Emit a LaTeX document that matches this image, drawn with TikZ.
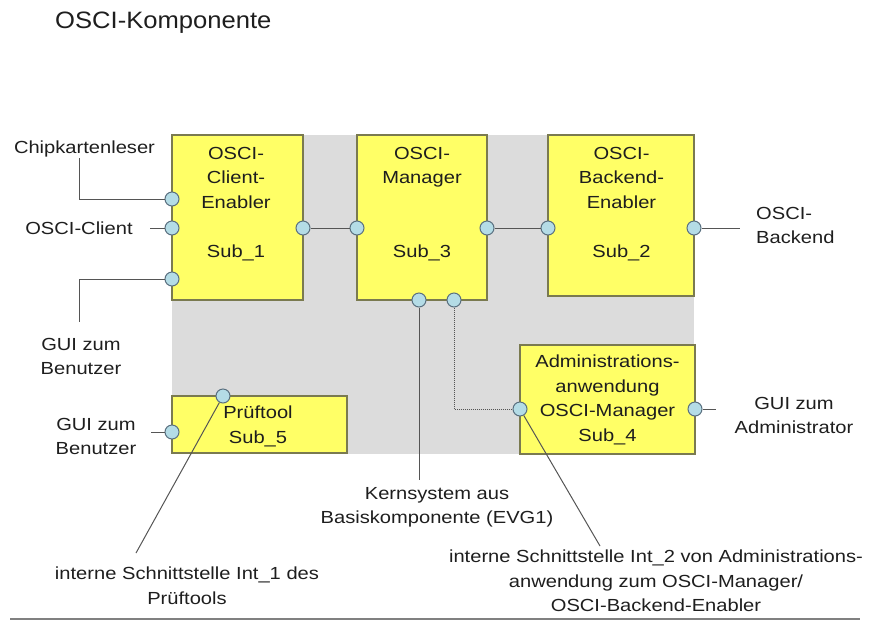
\documentclass[tikz,border=0pt]{standalone}
\usepackage{fontspec}
\setmainfont{Liberation Sans}[FakeStretch=1.15]
\newfontfamily\titlefont{Liberation Sans}[FakeStretch=1.08]
\definecolor{bggray}{HTML}{DCDCDC}
\definecolor{boxfill}{HTML}{FFFF66}
\definecolor{boxline}{HTML}{7A7A50}
\definecolor{portfill}{HTML}{B4DCE6}
\definecolor{portline}{HTML}{5A7080}
\definecolor{connline}{HTML}{555555}
\definecolor{textcol}{HTML}{1E1E1E}
\begin{document}
\begin{tikzpicture}[x=1pt,y=-1pt,
  box/.style={draw=boxline, fill=boxfill, line width=1.3pt, inner sep=0pt},
  port/.style={circle, draw=portline, fill=portfill, minimum size=14pt, inner sep=0pt, line width=1pt},
  conn/.style={draw=connline, line width=1pt},
  lbl/.style={font=\fontsize{17.5}{24.5}\selectfont, align=center, inner sep=0pt, text=textcol},
]
\useasboundingbox (0,0) rectangle (870,622);
\fill[bggray] (172,135) rectangle (694,454);
% title
\node[anchor=base west, inner sep=0pt, text=textcol, font=\titlefont\fontsize{23.7}{28}\selectfont] (title) at (55,28) {OSCI-Komponente};
% boxes
\node[box, minimum width=131pt, minimum height=165pt] (b1) at (237.5,217.5) {};
\node[box, minimum width=130pt, minimum height=165pt] (b3) at (422,217.5) {};
\node[box, minimum width=146pt, minimum height=161pt] (b2) at (621,215.5) {};
\node[box, minimum width=175pt, minimum height=57pt] (b5) at (259.5,424.5) {};
\node[box, minimum width=175pt, minimum height=109pt] (b4) at (607.5,399.5) {};
% box texts
\node[lbl, anchor=north] (t1) at (236,147) {OSCI-\\Client-\\Enabler};
\node[lbl, anchor=base] (s1) at (236,257) {Sub\_1};
\node[lbl, anchor=north] (t3) at (422,147) {OSCI-\\Manager};
\node[lbl, anchor=base] (s3) at (422,257) {Sub\_3};
\node[lbl, anchor=north] (t2) at (621.5,147) {OSCI-\\Backend-\\Enabler};
\node[lbl, anchor=base] (s2) at (621.5,257) {Sub\_2};
\node[lbl, anchor=north] (t4) at (607.5,355) {Administrations-\\anwendung\\OSCI-Manager\\Sub\_4};
\node[lbl, anchor=north] (t5) at (258,406) {Prüftool\\Sub\_5};
% labels
\node[lbl, anchor=base] (chip) at (84.5,153) {Chipkartenleser};
\node[lbl, anchor=base] (client) at (79,234) {OSCI-Client};
\node[lbl, anchor=north] (gui1) at (81,338) {GUI zum\\Benutzer};
\node[lbl, anchor=north] (gui2) at (96,418) {GUI zum\\Benutzer};
\node[lbl, anchor=north] (kern) at (437,487) {Kernsystem aus\\Basiskomponente (EVG1)};
\node[lbl, anchor=north] (int1) at (187,567) {interne Schnittstelle Int\_1 des\\Prüftools};
\node[lbl, anchor=north] (int2) at (656,550) {interne Schnittstelle Int\_2 von Administrations-\\anwendung zum OSCI-Manager/\\OSCI-Backend-Enabler};
\node[lbl, anchor=north] (guiadm) at (794,397) {GUI zum\\Administrator};
\node[lbl, anchor=north west, align=left] (backend) at (756,207) {OSCI-\\Backend};
% ports
\node[port] (p1a) at (172,199) {};
\node[port] (p1b) at (172,228) {};
\node[port] (p1c) at (172,279) {};
\node[port] (p1r) at (303,228) {};
\node[port] (p3l) at (357,228) {};
\node[port] (p3r) at (487,228) {};
\node[port] (p3b1) at (419,300) {};
\node[port] (p3b2) at (454,300) {};
\node[port] (p2l) at (548,228) {};
\node[port] (p2r) at (694,228) {};
\node[port] (p4l) at (520,409) {};
\node[port] (p4r) at (695,409) {};
\node[port] (p5l) at (172,432) {};
\node[port] (p5t) at (223,396) {};
% free ends
\coordinate (c1) at (79,158);
\coordinate (c2) at (150,228);
\coordinate (c3) at (79,322);
\coordinate (c4) at (151,432);
\coordinate (c5) at (136,553);
\coordinate (c6) at (419,480);
\coordinate (c7) at (600,546);
\coordinate (c8) at (716,409);
\coordinate (c9) at (740,228);
\coordinate (r1) at (10,619);
\coordinate (r2) at (860,619);
% connectors
\draw[conn] (c1) |- (p1a);
\draw[conn] (c2) -- (p1b);
\draw[conn] (p1c) -| (c3);
\draw[conn] (p1r) -- (p3l);
\draw[conn] (p3r) -- (p2l);
\draw[conn] (c4) -- (p5l);
\draw[conn] (p5t) -- (c5);
\draw[conn] (p3b1) -- (c6);
\draw[conn, densely dotted] (p3b2) |- (p4l);
\draw[conn] (p4l) -- (c7);
\draw[conn] (p4r) -- (c8);
\draw[conn] (p2r) -- (c9);
\draw[draw=gray, line width=1.5pt] (r1) -- (r2);
\end{tikzpicture}
\end{document}
